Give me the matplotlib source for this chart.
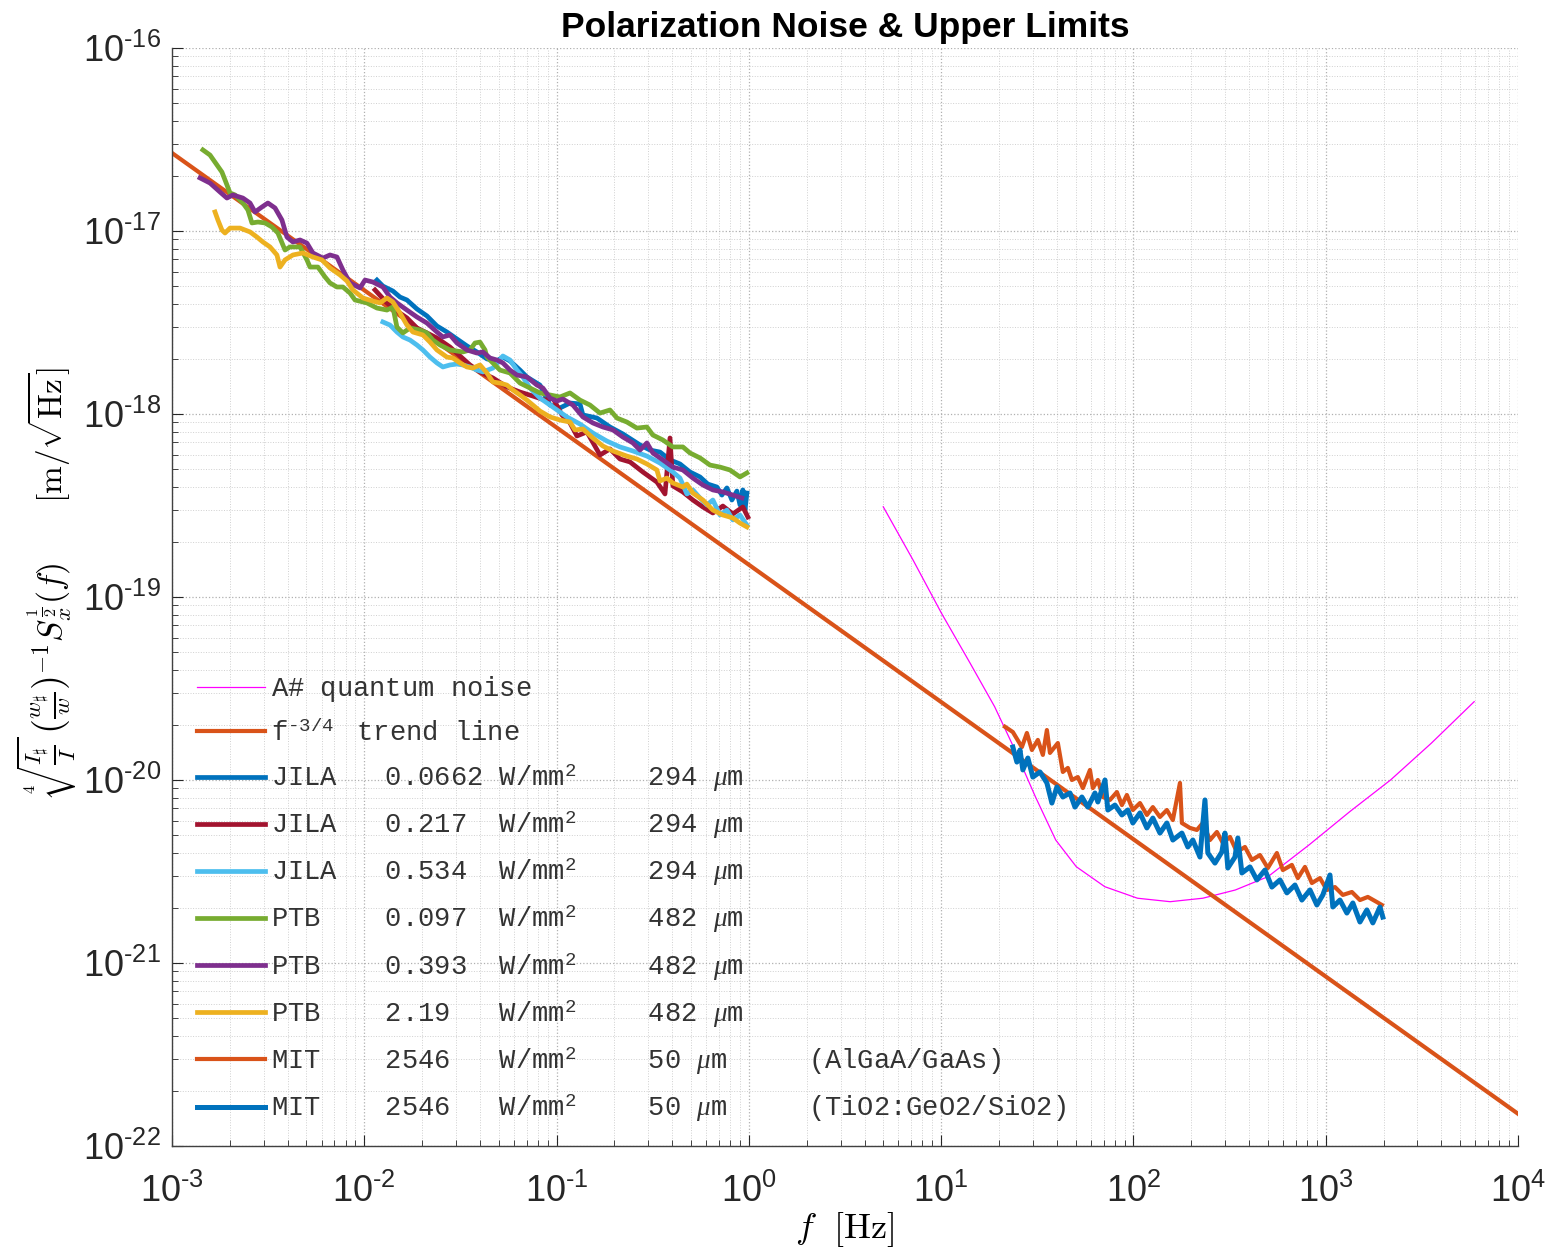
import matplotlib

matplotlib.use("Agg")
import matplotlib.pyplot as plt
import numpy as np
from matplotlib.font_manager import FontProperties
from matplotlib.ticker import FuncFormatter, LogLocator, NullFormatter

plt.rcParams["font.family"] = "Liberation Sans"
plt.rcParams["mathtext.fontset"] = "custom"
plt.rcParams["mathtext.rm"] = "Liberation Mono"
plt.rcParams["mathtext.it"] = "Liberation Serif:italic"
plt.rcParams["mathtext.bf"] = "Liberation Mono:bold"

# MATLAB default colour order
C_BLUE = "#0072BD"
C_ORANGE = "#D95319"
C_YELLOW = "#EDB120"
C_PURPLE = "#7E2F8E"
C_GREEN = "#77AC30"
C_CYAN = "#4DBEEE"
C_RED = "#A2142F"
C_MAGENTA = "#FF00FF"

# spectra are stored as log10(f / Hz) and log10(amplitude / (m/sqrt(Hz)))
quantum_logf = [0.699, 0.854, 1.002, 1.151, 1.278, 1.384, 1.490, 1.596, 1.703, 1.851,
                2.021, 2.191, 2.361, 2.530, 2.700, 2.913, 3.125, 3.337, 3.549, 3.772]
quantum_logs = [-18.507, -18.798, -19.089, -19.362, -19.599, -19.836, -20.091, -20.328, -20.474, -20.583,
                -20.646, -20.665, -20.646, -20.601, -20.528, -20.355, -20.173, -20.000, -19.799, -19.572]

trend_f = [1e-3, 1e4]
trend_s = [2.67e-17, 1.5e-22]

jila1_logf = [-1.934, -1.903, -1.851, -1.814, -1.778, -1.726, -1.674, -1.622, -1.570, -1.518,
              -1.466, -1.414, -1.362, -1.310, -1.279, -1.242, -1.190, -1.154, -1.086, -1.034,
              -0.982, -0.930, -0.878, -0.863, -0.790, -0.722, -0.655, -0.566, -0.514, -0.462,
              -0.410, -0.358, -0.306, -0.254, -0.213, -0.166, -0.140, -0.114, -0.088, -0.062,
              -0.046, -0.031, -0.020, -0.010]
jila1_logs = [-17.268, -17.301, -17.328, -17.361, -17.377, -17.426, -17.464, -17.519, -17.552, -17.590,
              -17.628, -17.661, -17.699, -17.710, -17.689, -17.710, -17.760, -17.798, -17.842, -17.951,
              -17.967, -17.940, -17.945, -18.005, -18.022, -18.071, -18.109, -18.169, -18.197, -18.208,
              -18.251, -18.273, -18.317, -18.344, -18.383, -18.399, -18.443, -18.404, -18.470, -18.421,
              -18.497, -18.415, -18.525, -18.432]

jila2_logf = [-1.944, -1.882, -1.830, -1.778, -1.726, -1.674, -1.622, -1.554, -1.502, -1.450,
              -1.398, -1.331, -1.258, -1.190, -1.123, -1.060, -1.019, -0.972, -0.930, -0.894,
              -0.842, -0.774, -0.722, -0.670, -0.618, -0.551, -0.478, -0.436, -0.410, -0.395,
              -0.343, -0.291, -0.239, -0.187, -0.135, -0.083, -0.031, -0.005]
jila2_logs = [-17.322, -17.393, -17.437, -17.475, -17.530, -17.557, -17.585, -17.634, -17.683, -17.732,
              -17.770, -17.803, -17.852, -17.880, -17.902, -17.924, -17.913, -18.005, -18.049, -18.120,
              -18.098, -18.224, -18.191, -18.246, -18.262, -18.317, -18.372, -18.437, -18.131, -18.393,
              -18.426, -18.470, -18.508, -18.541, -18.503, -18.546, -18.508, -18.563]

jila3_logf = [-1.903, -1.866, -1.830, -1.799, -1.762, -1.726, -1.695, -1.658, -1.622, -1.591,
              -1.554, -1.518, -1.487, -1.450, -1.414, -1.383, -1.331, -1.294, -1.279, -1.242,
              -1.206, -1.175, -1.138, -1.086, -1.019, -0.946, -0.878, -0.811, -0.738, -0.670,
              -0.603, -0.530, -0.462, -0.395, -0.358, -0.322, -0.291, -0.254, -0.218, -0.187,
              -0.150, -0.114, -0.083, -0.046, -0.010]
jila3_logs = [-17.497, -17.514, -17.552, -17.579, -17.596, -17.623, -17.650, -17.689, -17.721, -17.743,
              -17.732, -17.727, -17.732, -17.743, -17.760, -17.770, -17.749, -17.705, -17.683, -17.705,
              -17.760, -17.798, -17.858, -17.913, -17.962, -18.016, -18.055, -18.104, -18.148, -18.180,
              -18.202, -18.230, -18.268, -18.317, -18.350, -18.437, -18.415, -18.459, -18.497, -18.470,
              -18.552, -18.525, -18.579, -18.552, -18.607]

ptb1_logf = [-2.839, -2.802, -2.766, -2.740, -2.724, -2.698, -2.672, -2.631, -2.605, -2.584,
             -2.553, -2.516, -2.480, -2.449, -2.412, -2.386, -2.334, -2.298, -2.282, -2.241,
             -2.204, -2.178, -2.142, -2.111, -2.074, -2.048, -1.986, -1.934, -1.882, -1.851,
             -1.830, -1.799, -1.762, -1.710, -1.674, -1.643, -1.606, -1.554, -1.487, -1.450,
             -1.424, -1.398, -1.372, -1.362, -1.331, -1.294, -1.242, -1.190, -1.086, -0.982,
             -0.930, -0.878, -0.826, -0.774, -0.722, -0.686, -0.634, -0.582, -0.530, -0.499,
             -0.447, -0.395, -0.343, -0.306, -0.254, -0.202, -0.150, -0.098, -0.046, -0.010]
ptb1_logs = [-16.557, -16.585, -16.639, -16.678, -16.721, -16.792, -16.803, -16.847, -16.885, -16.956,
             -16.951, -16.956, -16.978, -17.011, -17.104, -17.087, -17.087, -17.158, -17.197, -17.197,
             -17.251, -17.284, -17.306, -17.306, -17.339, -17.377, -17.393, -17.421, -17.432, -17.415,
             -17.525, -17.557, -17.530, -17.541, -17.557, -17.596, -17.623, -17.650, -17.661, -17.650,
             -17.612, -17.607, -17.650, -17.689, -17.721, -17.760, -17.776, -17.831, -17.885, -17.907,
             -17.885, -17.924, -17.951, -17.995, -17.978, -18.022, -18.044, -18.077, -18.071, -18.115,
             -18.142, -18.180, -18.180, -18.213, -18.240, -18.279, -18.290, -18.306, -18.344, -18.322]

ptb2_logf = [-2.854, -2.802, -2.750, -2.714, -2.683, -2.631, -2.594, -2.568, -2.532, -2.501,
             -2.464, -2.428, -2.402, -2.371, -2.334, -2.298, -2.267, -2.215, -2.178, -2.142,
             -2.111, -2.074, -2.022, -1.996, -1.955, -1.903, -1.866, -1.830, -1.778, -1.726,
             -1.674, -1.622, -1.591, -1.554, -1.518, -1.466, -1.414, -1.383, -1.346, -1.310,
             -1.279, -1.242, -1.206, -1.154, -1.102, -1.071, -1.034, -0.998, -0.967, -0.915,
             -0.863, -0.811, -0.759, -0.707, -0.655, -0.603, -0.566, -0.530, -0.499, -0.447,
             -0.395, -0.343, -0.291, -0.239, -0.187, -0.135, -0.083, -0.036]
ptb2_logs = [-16.710, -16.738, -16.787, -16.820, -16.803, -16.820, -16.847, -16.896, -16.869, -16.847,
             -16.874, -16.940, -17.033, -17.060, -17.049, -17.066, -17.120, -17.148, -17.131, -17.142,
             -17.213, -17.284, -17.311, -17.268, -17.279, -17.306, -17.361, -17.393, -17.432, -17.470,
             -17.503, -17.552, -17.579, -17.568, -17.612, -17.650, -17.667, -17.661, -17.694, -17.705,
             -17.721, -17.760, -17.787, -17.798, -17.842, -17.858, -17.913, -17.929, -17.918, -17.951,
             -18.016, -18.049, -18.071, -18.087, -18.126, -18.158, -18.197, -18.158, -18.213, -18.251,
             -18.290, -18.306, -18.350, -18.388, -18.415, -18.426, -18.443, -18.459]

ptb3_logf = [-2.776, -2.761, -2.740, -2.724, -2.698, -2.646, -2.594, -2.558, -2.527, -2.490,
             -2.454, -2.438, -2.412, -2.371, -2.319, -2.267, -2.220, -2.178, -2.126, -2.090,
             -2.059, -2.007, -1.955, -1.918, -1.882, -1.851, -1.814, -1.778, -1.747, -1.695,
             -1.658, -1.622, -1.570, -1.539, -1.502, -1.466, -1.435, -1.398, -1.362, -1.331,
             -1.294, -1.258, -1.227, -1.190, -1.154, -1.086, -1.034, -0.982, -0.930, -0.904,
             -0.863, -0.811, -0.759, -0.707, -0.634, -0.582, -0.530, -0.478, -0.462, -0.426,
             -0.395, -0.343, -0.322, -0.291, -0.239, -0.187, -0.135, -0.083, -0.046, -0.010]
ptb3_logs = [-16.896, -16.940, -16.995, -17.011, -16.984, -16.984, -17.005, -17.033, -17.060, -17.087,
             -17.131, -17.197, -17.158, -17.131, -17.120, -17.142, -17.158, -17.202, -17.240, -17.273,
             -17.322, -17.366, -17.383, -17.393, -17.366, -17.388, -17.448, -17.514, -17.552, -17.568,
             -17.607, -17.650, -17.689, -17.694, -17.721, -17.743, -17.749, -17.732, -17.776, -17.825,
             -17.831, -17.842, -17.869, -17.896, -17.924, -17.984, -18.016, -18.033, -18.044, -18.087,
             -18.082, -18.131, -18.175, -18.202, -18.230, -18.246, -18.273, -18.306, -18.366, -18.350,
             -18.377, -18.399, -18.383, -18.432, -18.470, -18.525, -18.552, -18.568, -18.596, -18.617]

mit1_logf = [1.332, 1.373, 1.420, 1.446, 1.472, 1.503, 1.529, 1.550, 1.566, 1.607,
             1.633, 1.659, 1.680, 1.711, 1.737, 1.774, 1.789, 1.815, 1.841, 1.878,
             1.914, 1.940, 1.966, 1.997, 2.034, 2.070, 2.101, 2.138, 2.174, 2.205,
             2.242, 2.252, 2.294, 2.330, 2.361, 2.398, 2.434, 2.465, 2.502, 2.538,
             2.580, 2.616, 2.658, 2.699, 2.746, 2.777, 2.824, 2.855, 2.892, 2.928,
             2.970, 3.006, 3.048, 3.089, 3.136, 3.178, 3.219, 3.266, 3.292]
mit1_logs = [-19.709, -19.738, -19.820, -19.743, -19.836, -19.781, -19.863, -19.727, -19.852, -19.798,
             -19.956, -19.934, -20.000, -19.984, -20.044, -19.945, -20.044, -20.000, -20.093, -20.109,
             -20.066, -20.137, -20.082, -20.164, -20.126, -20.191, -20.148, -20.202, -20.164, -20.219,
             -20.016, -20.235, -20.262, -20.273, -20.235, -20.328, -20.284, -20.344, -20.311, -20.393,
             -20.366, -20.437, -20.410, -20.481, -20.399, -20.492, -20.464, -20.536, -20.475, -20.563,
             -20.536, -20.601, -20.585, -20.628, -20.612, -20.656, -20.639, -20.667, -20.683]

mit2_logf = [1.373, 1.394, 1.410, 1.425, 1.451, 1.477, 1.514, 1.550, 1.576, 1.602,
             1.633, 1.670, 1.696, 1.732, 1.763, 1.800, 1.815, 1.852, 1.867, 1.904,
             1.940, 1.971, 1.997, 2.034, 2.070, 2.101, 2.138, 2.174, 2.205, 2.252,
             2.283, 2.309, 2.346, 2.372, 2.387, 2.424, 2.460, 2.476, 2.491, 2.528,
             2.543, 2.564, 2.606, 2.642, 2.684, 2.720, 2.762, 2.798, 2.840, 2.876,
             2.918, 2.954, 2.985, 3.022, 3.037, 3.074, 3.110, 3.141, 3.178, 3.214,
             3.245, 3.282, 3.297]
mit2_logs = [-19.820, -19.902, -19.836, -19.945, -19.880, -19.984, -19.956, -20.016, -20.126, -20.038,
             -20.093, -20.071, -20.148, -20.093, -20.148, -20.071, -20.120, -20.000, -20.164, -20.137,
             -20.191, -20.164, -20.235, -20.180, -20.262, -20.208, -20.290, -20.235, -20.328, -20.290,
             -20.366, -20.328, -20.421, -20.109, -20.399, -20.454, -20.393, -20.290, -20.481, -20.421,
             -20.317, -20.508, -20.475, -20.546, -20.492, -20.585, -20.546, -20.617, -20.574, -20.656,
             -20.601, -20.683, -20.628, -20.519, -20.694, -20.656, -20.727, -20.672, -20.776, -20.710,
             -20.781, -20.694, -20.749]

labels = [
    "A# quantum noise$^{\\ }$",
    "f$^{\u20103/4}\\ $ trend line",
    "JILA   0.0662 W/mm$^2\\ $    294 $\\mu$m",
    "JILA   0.217  W/mm$^2\\ $    294 $\\mu$m",
    "JILA   0.534  W/mm$^2\\ $    294 $\\mu$m",
    "PTB    0.097  W/mm$^2\\ $    482 $\\mu$m",
    "PTB    0.393  W/mm$^2\\ $    482 $\\mu$m",
    "PTB    2.19   W/mm$^2\\ $    482 $\\mu$m",
    "MIT    2546   W/mm$^2\\ $    50 $\\mu$m     (AlGaA/GaAs)",
    "MIT    2546   W/mm$^2\\ $    50 $\\mu$m     (TiO2:GeO2/SiO2)",
]


def tick_label(value, _pos):
    exp = int(round(np.log10(value)))
    sign = "\u2010" if exp < 0 else ""
    return r"$\mathregular{10^{%s%d}}$" % (sign, abs(exp))


fig = plt.figure(figsize=(15.49, 12.5), dpi=100)
ax = fig.add_axes([0.1110, 0.0832, 0.8690, 0.8784])

ax.plot(10 ** np.array(quantum_logf), 10 ** np.array(quantum_logs), color=C_MAGENTA, lw=0.9, label=labels[0])
ax.plot(trend_f, trend_s, color=C_ORANGE, lw=3.0, label=labels[1])

series = [
    (jila1_logf, jila1_logs, C_BLUE, 3.4),
    (jila2_logf, jila2_logs, C_RED, 3.4),
    (jila3_logf, jila3_logs, C_CYAN, 3.4),
    (ptb1_logf, ptb1_logs, C_GREEN, 3.4),
    (ptb2_logf, ptb2_logs, C_PURPLE, 3.4),
    (ptb3_logf, ptb3_logs, C_YELLOW, 3.4),
    (mit1_logf, mit1_logs, C_ORANGE, 3.0),
    (mit2_logf, mit2_logs, C_BLUE, 3.6),
]
for (logf, logs, color, lw), label in zip(series, labels[2:]):
    ax.plot(10 ** np.array(logf), 10 ** np.array(logs), color=color, lw=lw, label=label)

ax.set_xscale("log")
ax.set_yscale("log")
ax.set_xlim(1e-3, 1e4)
ax.set_ylim(1e-22, 1e-16)

for axis in (ax.xaxis, ax.yaxis):
    axis.set_major_locator(LogLocator(base=10, numticks=20))
    axis.set_minor_locator(LogLocator(base=10, subs=np.arange(2, 10), numticks=20))
    axis.set_major_formatter(FuncFormatter(tick_label))
    axis.set_minor_formatter(NullFormatter())

ax.grid(True, which="major", linestyle=":", color="#b0b0b0", lw=0.9)
ax.grid(True, which="minor", linestyle=":", color="#d0d0d0", lw=0.7)
ax.set_axisbelow(True)

ax.tick_params(which="both", direction="in", top=False, right=False, colors="#262626", labelsize=26)
ax.tick_params(which="major", length=8, width=0.8)
ax.tick_params(which="minor", length=4, width=0.6)
ax.tick_params(axis="x", pad=20)
ax.tick_params(axis="y", pad=8)

for side in ("top", "right"):
    ax.spines[side].set_visible(False)
for side in ("left", "bottom"):
    ax.spines[side].set_color("#404040")
    ax.spines[side].set_linewidth(1.0)

ax.set_title("Polarization Noise & Upper Limits", fontsize=25.5, fontweight="bold", pad=8)

ax.set_xlabel(r"$f\ \ [\mathrm{Hz}]$", fontsize=26, math_fontfamily="cm")
ax.xaxis.set_label_coords(0.5, -0.058)
ax.set_ylabel(
    r"$\sqrt[4]{\frac{I_\sharp}{I}}\,\left(\frac{w_\sharp}{w}\right)^{-1} S_x^{\frac{1}{2}}(f)\qquad[\mathrm{m}/\sqrt{\mathrm{Hz}}]$",
    fontsize=24,
    math_fontfamily="cm",
)
ax.yaxis.set_label_coords(-0.070, 0.513)

ax.legend(
    loc="upper left",
    bbox_to_anchor=(0.0186, 0.4295),
    frameon=False,
    prop=FontProperties(family="Liberation Mono", size=19.5),
    labelcolor="#333333",
    handlelength=2.5,
    handletextpad=0.25,
    labelspacing=0.57,
    borderpad=0,
    borderaxespad=0,
)

fig.savefig("out.png", dpi=100)
